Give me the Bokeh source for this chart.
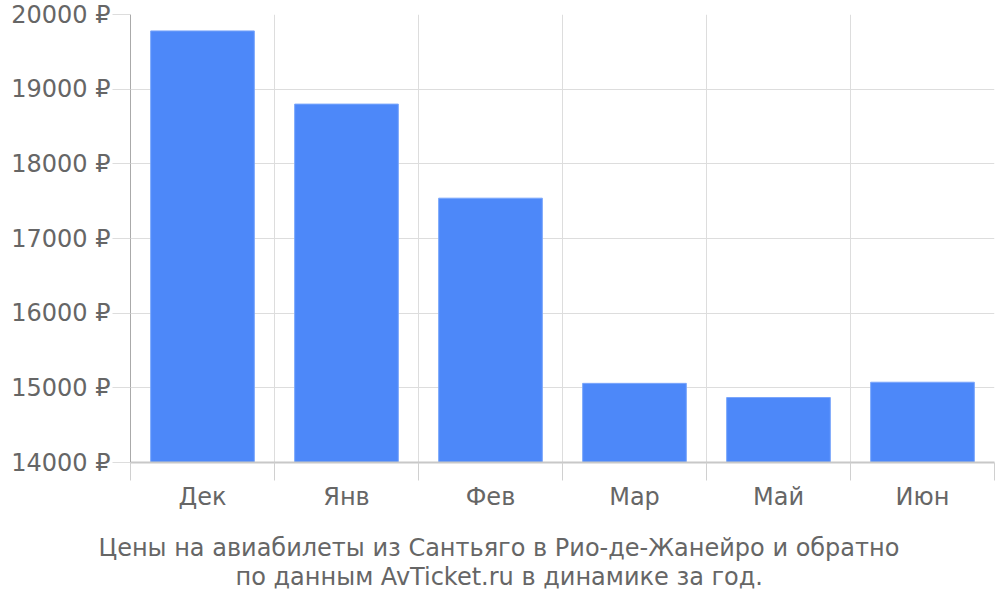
from bokeh.plotting import figure
from bokeh.models import Range1d, FixedTicker, PrintfTickFormatter, Title
from bokeh.embed import file_html
from bokeh.resources import INLINE

months = ["Дек", "Янв", "Фев", "Мар", "Май", "Июн"]
prices = [19780, 18800, 17540, 15060, 14870, 15075]
y_ticks = [14000, 15000, 16000, 17000, 18000, 19000, 20000]
title_lines = ["Цены на авиабилеты из Сантьяго в Рио-де-Жанейро и обратно",
               "по данным AvTicket.ru в динамике за год."]

FONT = "DejaVu Sans"
TXT = "#666666"

n = len(months)
centers = [i + 0.5 for i in range(n)]

p = figure(width=1000, height=600, output_backend="svg", toolbar_location=None,
           x_range=Range1d(0, n), y_range=Range1d(y_ticks[0], y_ticks[-1]),
           min_border_left=130, min_border_right=6, min_border_top=14, min_border_bottom=138)
p.outline_line_color = None

p.vbar(x=centers, top=prices, bottom=y_ticks[0], width=0.72,
       fill_color="#4d88f9", line_color="#7aa6fb", line_width=1)

# x axis
xa = p.xaxis[0]
xa.ticker = FixedTicker(ticks=centers, minor_ticks=list(range(n + 1)))
xa.major_label_overrides = {c: m for c, m in zip(centers, months)}
xa.major_tick_out = 0
xa.major_tick_in = 0
xa.minor_tick_out = 18
xa.minor_tick_in = 0
xa.minor_tick_line_color = "#d0d0d0"
xa.axis_line_color = "#c8c8c8"
xa.axis_line_width = 2
xa.major_label_text_font = FONT
xa.major_label_text_font_size = "24px"
xa.major_label_text_color = TXT
xa.major_label_standoff = 2

# y axis
ya = p.yaxis[0]
ya.ticker = FixedTicker(ticks=y_ticks)
ya.formatter = PrintfTickFormatter(format="%d ₽")
ya.major_tick_out = 18
ya.major_tick_in = 0
ya.minor_tick_out = 0
ya.minor_tick_in = 0
ya.major_tick_line_color = "#dddddd"
ya.axis_line_color = "#aaaaaa"
ya.major_label_text_font = FONT
ya.major_label_text_font_size = "24px"
ya.major_label_text_color = TXT
ya.major_label_standoff = 2

p.xgrid.ticker = FixedTicker(ticks=list(range(n + 1)))
p.xgrid.grid_line_color = "#dddddd"
p.ygrid.ticker = FixedTicker(ticks=y_ticks)
p.ygrid.grid_line_color = "#dddddd"

title_offsets = [-32, 105]
title_standoffs = [36, -34]
title_valign = ["bottom", "top"]
for line, off, so, va in zip(title_lines, title_offsets, title_standoffs, title_valign):
    t = Title(text=line, align="left", offset=off, text_font=FONT,
              text_font_size="24px", text_font_style="normal", text_color=TXT,
              standoff=so, text_line_height=0.85, vertical_align=va)
    p.add_layout(t, "below")

open("out.html", "w").write(file_html(p, INLINE))
